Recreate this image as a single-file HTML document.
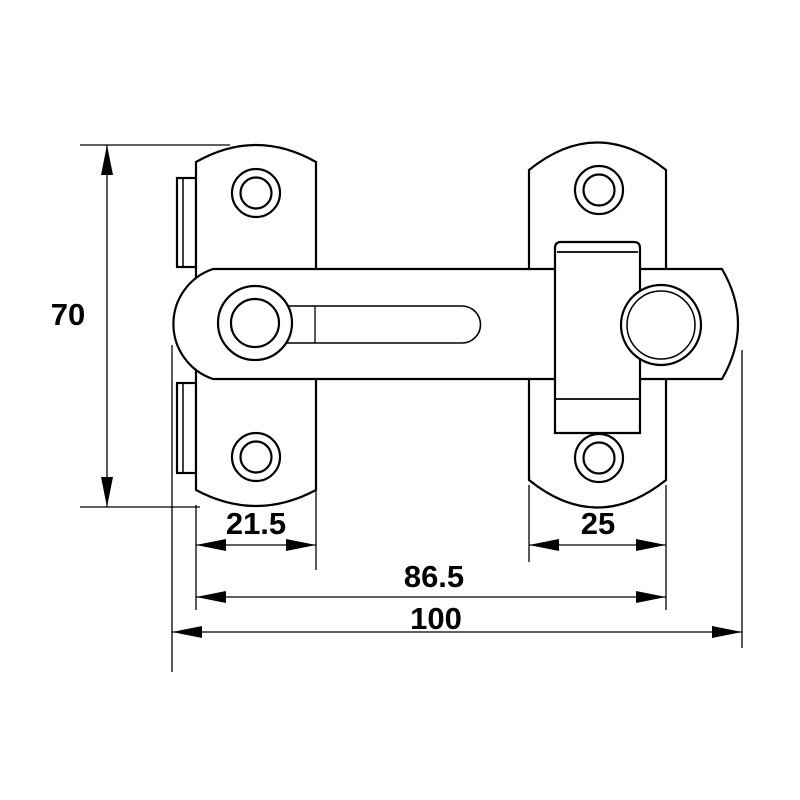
<!DOCTYPE html>
<html><head><style>body{margin:0;background:#fff}svg{display:block}</style></head><body>
<svg width="800" height="800" viewBox="0 0 800 800" xmlns="http://www.w3.org/2000/svg">
<defs>
<marker id="a" viewBox="0 0 30 12" refX="30" refY="6" markerWidth="30" markerHeight="12" markerUnits="userSpaceOnUse" orient="auto-start-reverse"><path d="M0,0 L30,6 L0,12 Z" fill="#000"/></marker>
</defs>
<g fill="none" stroke="#000" stroke-width="1.3">
<line x1="80" y1="145" x2="230" y2="145"/>
<line x1="80" y1="507" x2="200" y2="507"/>
<line x1="107" y1="145" x2="107" y2="507" marker-start="url(#a)" marker-end="url(#a)"/>
<line x1="196" y1="505" x2="196" y2="610"/>
<line x1="316" y1="490" x2="316" y2="570"/>
<line x1="529" y1="485" x2="529" y2="562"/>
<line x1="666" y1="485" x2="666" y2="610"/>
<line x1="742" y1="350" x2="742" y2="648"/>
<line x1="172" y1="345" x2="172" y2="672"/>
<line x1="196" y1="545" x2="316" y2="545" marker-start="url(#a)" marker-end="url(#a)"/>
<line x1="529" y1="545" x2="666" y2="545" marker-start="url(#a)" marker-end="url(#a)"/>
<line x1="196" y1="597" x2="666" y2="597" marker-start="url(#a)" marker-end="url(#a)"/>
<line x1="172" y1="632" x2="742" y2="632" marker-start="url(#a)" marker-end="url(#a)"/>
</g>
<g fill="#fff" stroke="#000" stroke-width="2.2">
<rect x="177" y="178" width="19" height="89"/>
<line x1="183" y1="178" x2="183" y2="267" stroke-width="1.5"/>
<rect x="177" y="383" width="19" height="90"/>
<line x1="183" y1="383" x2="183" y2="473" stroke-width="1.5"/>
<path d="M196,162 Q256,128 316,162 L316,490 Q256,522 196,490 Z"/>
<path d="M529,170 Q597,115 666,170 L666,480 Q597,535 529,480 Z"/>
<circle cx="256" cy="193" r="24"/><circle cx="256" cy="193" r="15.5"/>
<circle cx="256" cy="457" r="24"/><circle cx="256" cy="457" r="15.5"/>
<circle cx="599" cy="190" r="24"/><circle cx="599" cy="190" r="15.5"/>
<circle cx="599" cy="458" r="24"/><circle cx="599" cy="458" r="15.5"/>
<path d="M213,269 L722,269 Q754,324 722,379 L213,379 A58,58 0 0 1 213,269 Z"/>
<path d="M285,306 L462,306 A18.5,18.5 0 0 1 462,343 L285,343" stroke-width="1.6"/>
<line x1="315" y1="306" x2="315" y2="343" stroke-width="1.3"/>
<circle cx="255" cy="323" r="37"/><circle cx="255" cy="323" r="24"/>
<path d="M555,433 L555,248 Q555,242 561,242 L634,242 Q640,242 640,248 L640,433 Z"/>
<line x1="557" y1="252" x2="638" y2="252" stroke-width="1.8"/>
<line x1="555" y1="399" x2="640" y2="399" stroke-width="1.8"/>
<circle cx="661" cy="325" r="40"/><circle cx="661" cy="325" r="34" stroke-width="1.5"/>
</g>
<g font-family="Liberation Sans, sans-serif" font-weight="bold" font-size="31" fill="#000" text-anchor="middle">
<text x="68" y="325">70</text>
<text x="256" y="534">21.5</text>
<text x="598" y="534">25</text>
<text x="434" y="587">86.5</text>
<text x="436" y="629">100</text>
</g>
</svg>
</body></html>
